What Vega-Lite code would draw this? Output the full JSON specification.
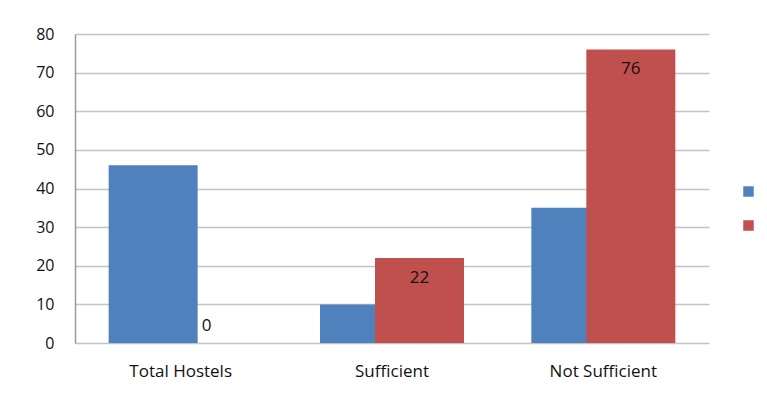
{
  "$schema": "https://vega.github.io/schema/vega-lite/v6.json",
  "width": 634,
  "height": 309,
  "autosize": {"type": "none"},
  "padding": {"left": 75, "top": 34, "right": 58, "bottom": 50},
  "background": "white",
  "config": {
    "view": {"stroke": null},
    "font": "Open Sans",
    "axis": {"labelFont": "Open Sans", "labelColor": "#111111", "labelFontSize": 17}
  },
  "data": {
    "values": [
      {"category": "Total Hostels", "series": "Series1", "value": 46},
      {"category": "Total Hostels", "series": "Series2", "value": 0},
      {"category": "Sufficient", "series": "Series1", "value": 10},
      {"category": "Sufficient", "series": "Series2", "value": 22},
      {"category": "Not Sufficient", "series": "Series1", "value": 35},
      {"category": "Not Sufficient", "series": "Series2", "value": 76}
    ]
  },
  "encoding": {
    "x": {
      "field": "category",
      "type": "nominal",
      "sort": ["Total Hostels", "Sufficient", "Not Sufficient"],
      "axis": {"title": null, "labelAngle": 0, "ticks": false, "domain": false, "labelPadding": 20},
      "scale": {"paddingInner": 0, "paddingOuter": 0}
    },
    "y": {
      "field": "value",
      "type": "quantitative",
      "scale": {"domain": [0, 80], "nice": false},
      "axis": {"title": null, "values": [0, 10, 20, 30, 40, 50, 60, 70, 80], "ticks": false, "domain": true, "domainColor": "#9a9a9a", "domainWidth": 1.5, "gridColor": "#c4c4c4", "gridWidth": 1.5, "labelPadding": 21, "labelFontSize": 16}
    }
  },
  "layer": [
    {
      "transform": [{"filter": "datum.series === 'Series1'"}],
      "mark": {"type": "bar", "size": 89, "xOffset": -27.5},
      "encoding": {
        "color": {"field": "series", "type": "nominal", "scale": {"domain": ["Series1", "Series2"], "range": ["#4F81BD", "#C0504D"]},
          "legend": {"title": null, "orient": "none", "legendX": 668, "legendY": 152, "symbolType": "square", "symbolSize": 110, "symbolStrokeWidth": 0, "rowPadding": 23, "labelExpr": "''", "labelFontSize": 1}}
      }
    },
    {
      "transform": [{"filter": "datum.series === 'Series2'"}],
      "mark": {"type": "bar", "size": 89, "xOffset": 27.5},
      "encoding": {
        "color": {"field": "series", "type": "nominal"}
      }
    },
    {
      "transform": [{"filter": "datum.series === 'Series2' && datum.value > 0"}],
      "mark": {"type": "text", "xOffset": 27.5, "dy": 20, "fontSize": 17, "color": "#111111", "font": "Open Sans"},
      "encoding": {"text": {"field": "value", "type": "quantitative"}}
    },
    {
      "transform": [{"filter": "datum.series === 'Series2' && datum.value === 0"}],
      "mark": {"type": "text", "xOffset": 26, "dy": -17, "fontSize": 17, "color": "#111111", "font": "Open Sans"},
      "encoding": {"text": {"field": "value", "type": "quantitative"}}
    }
  ]
}
